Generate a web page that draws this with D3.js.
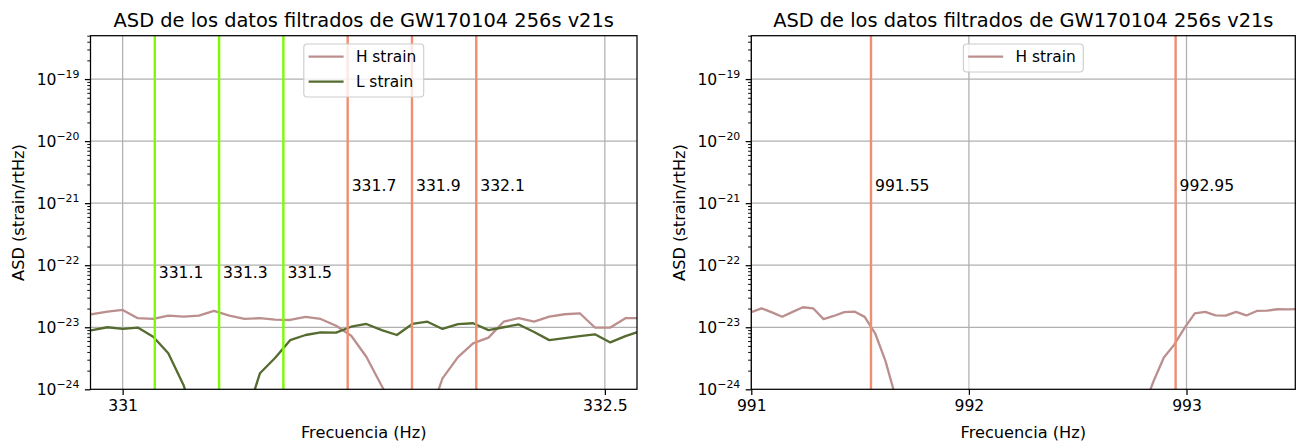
<!DOCTYPE html>
<html>
<head>
<meta charset="utf-8">
<script src="https://cdn.jsdelivr.net/npm/d3@7"></script>
<style>
  html, body { margin: 0; padding: 0; background: #ffffff; }
  svg { display: block; font-family: "DejaVu Sans", sans-serif; }
</style>
</head>
<body>
<svg id="chart" width="1301" height="443"></svg>
<script>
// ---- data ---------------------------------------------------------------
const chartTitle = "ASD de los datos filtrados de GW170104 256s v21s";
const xLabel = "Frecuencia (Hz)";
const yLabel = "ASD (strain/rtHz)";

// Panel 1: band around 331-332.6 Hz
const leftFreq = [
  330.905, 330.953, 331.000, 331.047, 331.095, 331.142, 331.190, 331.237,
  331.284, 331.332, 331.379, 331.427, 331.474, 331.521, 331.569, 331.616,
  331.664, 331.711, 331.758, 331.806, 331.853, 331.901, 331.948, 331.995,
  332.043, 332.090, 332.138, 332.185, 332.232, 332.280, 332.327, 332.375,
  332.422, 332.469, 332.517, 332.564, 332.612
];
const leftH = [
  1.62e-23, 1.79e-23, 1.90e-23, 1.40e-23, 1.36e-23, 1.54e-23, 1.48e-23, 1.54e-23,
  1.83e-23, 1.54e-23, 1.36e-23, 1.40e-23, 1.33e-23, 1.31e-23, 1.47e-23, 1.36e-23,
  1.06e-23, 7.3e-24, 3.35e-24, 1.13e-24, 4.0e-25, 2.0e-25, 3.0e-25, 1.5e-24,
  3.3e-24, 5.5e-24, 6.8e-24, 1.23e-23, 1.40e-23, 1.23e-23, 1.48e-23, 1.62e-23,
  1.68e-23, 9.9e-24, 9.9e-24, 1.40e-23, 1.40e-23
];
const leftL = [
  9.0e-24, 1.0e-23, 9.4e-24, 9.9e-24, 7.05e-24, 3.8e-24, 1.15e-24, 2.0e-25,
  1.0e-25, 1.5e-25, 3.0e-25, 1.81e-24, 3.2e-24, 6.2e-24, 7.5e-24, 8.3e-24,
  8.2e-24, 1.02e-23, 1.13e-23, 9.0e-24, 7.5e-24, 1.13e-23, 1.23e-23, 9.4e-24,
  1.12e-23, 1.16e-23, 9.0e-24, 1.0e-23, 1.11e-23, 8.4e-24, 6.2e-24, 6.7e-24,
  7.2e-24, 7.7e-24, 5.7e-24, 7.2e-24, 8.7e-24
];
const leftDomain = [330.9, 332.6];
const leftTicks = [331, 332.5];
const leftTickLabels = ["331", "332.5"];
const leftGreenLines = [331.1, 331.3, 331.5];
const leftOrangeLines = [331.7, 331.9, 332.1];

// Panel 2: band around 991-993.5 Hz
const rightFreq = [
  991.000, 991.047, 991.095, 991.142, 991.190, 991.237, 991.284, 991.332,
  991.379, 991.427, 991.474, 991.521, 991.569, 991.616, 991.664, 991.711,
  991.758, 991.806, 991.853, 991.901, 991.948, 991.995, 992.043, 992.090,
  992.138, 992.185, 992.232, 992.280, 992.327, 992.375, 992.422, 992.469,
  992.517, 992.564, 992.612, 992.659, 992.706, 992.754, 992.801, 992.849,
  992.896, 992.943, 992.991, 993.038, 993.086, 993.133, 993.180, 993.228,
  993.275, 993.323, 993.370, 993.417, 993.465, 993.512
];
const rightH = [
  1.75e-23, 2.02e-23, 1.74e-23, 1.48e-23, 1.77e-23, 2.10e-23, 2.02e-23, 1.35e-23,
  1.52e-23, 1.75e-23, 1.79e-23, 1.47e-23, 8.0e-24, 2.9e-24, 7.3e-25, 3.0e-25,
  1.8e-25, 1.2e-25, 9.0e-26, 8.0e-26, 7.0e-26, 6.0e-26, 6.0e-26, 5.0e-26,
  5.0e-26, 5.0e-26, 6.0e-26, 6.0e-26, 7.0e-26, 8.0e-26, 9.0e-26, 1.1e-25,
  1.3e-25, 1.6e-25, 2.0e-25, 2.5e-25, 3.0e-25, 4.0e-25, 5.0e-25, 1.36e-24,
  3.26e-24, 5.2e-24, 9.8e-24, 1.67e-23, 1.77e-23, 1.55e-23, 1.54e-23, 1.77e-23,
  1.55e-23, 1.83e-23, 1.85e-23, 1.95e-23, 1.94e-23, 1.96e-23
];
const rightDomain = [991, 993.5];
const rightTicks = [991, 992, 993];
const rightTickLabels = ["991", "992", "993"];
const rightOrangeLines = [991.55, 992.95];

// shared log axis
const yDomain = [1e-24, 5e-19];
const yTicks = [1e-24, 1e-23, 1e-22, 1e-21, 1e-20, 1e-19];
const yTickExponents = ["\u221224", "\u221223", "\u221222", "\u221221", "\u221220", "\u221219"];
// heights at which the frequency of each marker line is written
const greenLabelLevel = 6.3e-23;
const orangeLabelLevel = 1.55e-21;

// ---- styling ------------------------------------------------------------
const colH = "#bc8f8f";
const colL = "#556b2f";
const colGreen = "#7cfc00";
const colOrange = "#f08e70";
const gridCol = "#b0b0b0";
const tickFont = 15.6;
const labelFont = 16.2;
const titleFont = 19.4;
const legendFont = 15.4;
const lineW = 2.3;

const svg = d3.select("#chart");
svg.append("rect").attr("width", 1301).attr("height", 443).attr("fill", "#ffffff");

const plotTop = 35.7, plotBottom = 389.3;

function drawPanel(cfg) {
  const x = d3.scaleLinear().domain(cfg.domain).range([cfg.x0, cfg.x1]);
  const y = d3.scaleLog().domain(yDomain).range([plotBottom, plotTop]);
  const g = svg.append("g");

  const clipId = "clip-" + cfg.id;
  svg.append("defs").append("clipPath").attr("id", clipId)
    .append("rect").attr("x", cfg.x0).attr("y", plotTop)
    .attr("width", cfg.x1 - cfg.x0).attr("height", plotBottom - plotTop);

  // grid
  const grid = g.append("g");
  grid.selectAll("line.gx").data(cfg.ticks).join("line")
    .attr("x1", d => x(d)).attr("x2", d => x(d))
    .attr("y1", plotTop).attr("y2", plotBottom)
    .attr("stroke", gridCol).attr("stroke-width", 1.25);
  grid.selectAll("line.gy").data(yTicks.filter(d => d > yDomain[0])).join("line")
    .attr("x1", cfg.x0).attr("x2", cfg.x1)
    .attr("y1", d => y(d)).attr("y2", d => y(d))
    .attr("stroke", gridCol).attr("stroke-width", 1.25);

  const plot = g.append("g").attr("clip-path", `url(#${clipId})`);

  // marker lines
  const vlines = [];
  (cfg.greenLines || []).forEach(f => vlines.push({f, c: colGreen, lvl: greenLabelLevel}));
  (cfg.orangeLines || []).forEach(f => vlines.push({f, c: colOrange, lvl: orangeLabelLevel}));

  // series
  const line = d3.line().x(d => x(d[0])).y(d => y(d[1]));
  cfg.series.forEach(s => {
    plot.append("path")
      .datum(cfg.freq.map((f, i) => [f, s.values[i]]))
      .attr("d", line)
      .attr("fill", "none")
      .attr("stroke", s.color)
      .attr("stroke-width", lineW)
      .attr("stroke-linejoin", "round")
      .attr("stroke-linecap", "square");
  });

  plot.selectAll("line.v").data(vlines).join("line")
    .attr("x1", d => x(d.f)).attr("x2", d => x(d.f))
    .attr("y1", plotTop).attr("y2", plotBottom)
    .attr("stroke", d => d.c).attr("stroke-width", 2.4);

  g.selectAll("text.vl").data(vlines).join("text")
    .attr("x", d => x(d.f) + 4)
    .attr("y", d => y(d.lvl))
    .attr("font-size", tickFont)
    .attr("fill", "#000")
    .text(d => String(d.f));

  // y axis: major and minor ticks
  const yAxis = d3.axisLeft(y).tickValues(yTicks).tickSize(5.6).tickFormat("");
  const yAx = g.append("g").attr("transform", `translate(${cfg.x0},0)`).call(yAxis);
  yAx.select(".domain").remove();
  yAx.selectAll(".tick line").attr("stroke", "#000").attr("stroke-width", 1.25);
  const minor = [];
  for (let e = -25; e <= -19; e++) {
    for (let m = 2; m <= 9; m++) {
      const v = m * Math.pow(10, e);
      if (v > yDomain[0] && v <= yDomain[1]) minor.push(v);
    }
  }
  const yMinor = d3.axisLeft(y).tickValues(minor).tickSize(3.2).tickFormat("");
  const yMin = g.append("g").attr("transform", `translate(${cfg.x0},0)`).call(yMinor);
  yMin.select(".domain").remove();
  yMin.selectAll(".tick line").attr("stroke", "#000").attr("stroke-width", 0.95);

  // y tick labels as 10^n
  const yl = g.selectAll("text.ytl").data(yTicks).join("text")
    .attr("x", cfg.x0 - 11)
    .attr("y", d => y(d) + 6)
    .attr("text-anchor", "end")
    .attr("font-size", tickFont)
    .attr("fill", "#000");
  yl.append("tspan").text("10");
  yl.append("tspan").attr("dy", -7.5).attr("font-size", tickFont * 0.7)
    .text((d, i) => yTickExponents[i]);

  // x axis
  const xAxis = d3.axisBottom(x).tickValues(cfg.ticks).tickSize(5.6)
    .tickFormat((d, i) => cfg.tickLabels[i]).tickPadding(5.2);
  const xAx = g.append("g").attr("transform", `translate(0,${plotBottom})`).call(xAxis);
  xAx.select(".domain").remove();
  xAx.selectAll(".tick line").attr("stroke", "#000").attr("stroke-width", 1.25);
  xAx.selectAll(".tick text").attr("font-size", tickFont).attr("fill", "#000")
    .attr("font-family", "DejaVu Sans");

  // frame
  g.append("rect").attr("x", cfg.x0).attr("y", plotTop)
    .attr("width", cfg.x1 - cfg.x0).attr("height", plotBottom - plotTop)
    .attr("fill", "none").attr("stroke", "#000").attr("stroke-width", 1.25);

  // titles and labels
  const cx = (cfg.x0 + cfg.x1) / 2;
  g.append("text").attr("x", cx).attr("y", 26.5).attr("text-anchor", "middle")
    .attr("font-size", titleFont).attr("fill", "#000").text(chartTitle);
  g.append("text").attr("x", cx).attr("y", 437.5).attr("text-anchor", "middle")
    .attr("font-size", labelFont).attr("fill", "#000").text(xLabel);
  g.append("text")
    .attr("transform", `translate(${cfg.yLabelX},${(plotTop + plotBottom) / 2}) rotate(-90)`)
    .attr("text-anchor", "middle").attr("dy", "0.35em")
    .attr("font-size", labelFont).attr("fill", "#000").text(yLabel);

  // legend, upper centre
  const lg = g.append("g");
  const pad = 4.8, handle = 35, gap = 12.3, rowH = 25, padTop = 12.7;
  const box = lg.append("rect").attr("fill", "#ffffff").attr("fill-opacity", 0.8)
    .attr("stroke", "#cccccc").attr("stroke-width", 1.1).attr("rx", 3.5);
  let maxW = 0;
  const items = lg.selectAll("g.item").data(cfg.series).join("g");
  items.append("line").attr("x1", 0).attr("x2", handle)
    .attr("y1", (d, i) => padTop + i * rowH).attr("y2", (d, i) => padTop + i * rowH)
    .attr("stroke", d => d.color).attr("stroke-width", lineW);
  items.append("text").attr("x", handle + gap)
    .attr("y", (d, i) => padTop + i * rowH + 5.6)
    .attr("font-size", legendFont).attr("fill", "#000")
    .text(d => d.name)
    .each(function () { maxW = Math.max(maxW, this.getComputedTextLength()); });
  const bw = pad + handle + gap + maxW + 7.5;
  const bh = cfg.series.length * rowH + 3;
  const bx = cx - bw / 2, by = 44;
  box.attr("x", bx).attr("y", by).attr("width", bw).attr("height", bh);
  items.attr("transform", `translate(${bx + pad},${by})`);
}

drawPanel({
  id: "a", x0: 90.5, x1: 637, domain: leftDomain,
  ticks: leftTicks, tickLabels: leftTickLabels, freq: leftFreq,
  series: [{name: "H strain", values: leftH, color: colH},
           {name: "L strain", values: leftL, color: colL}],
  greenLines: leftGreenLines, orangeLines: leftOrangeLines, yLabelX: 18
});
drawPanel({
  id: "b", x0: 751.3, x1: 1295.3, domain: rightDomain,
  ticks: rightTicks, tickLabels: rightTickLabels, freq: rightFreq,
  series: [{name: "H strain", values: rightH, color: colH}],
  orangeLines: rightOrangeLines, yLabelX: 679
});
</script>
</body>
</html>
